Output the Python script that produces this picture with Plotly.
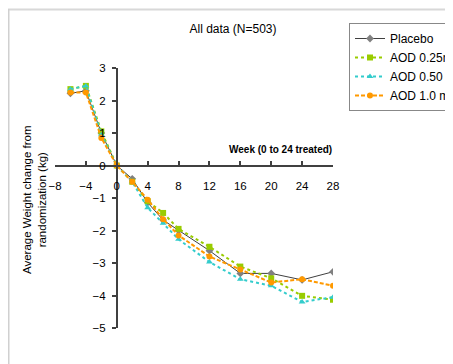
import plotly.graph_objects as go

weeks = [-6, -4, -2, 0, 2, 4, 6, 8, 12, 16, 20, 24, 28]
placebo = [2.22, 2.3, 1.0, 0.0, -0.41, -1.14, -1.68, -2.0, -2.62, -3.32, -3.32, -3.52, -3.27]
aod_025 = [2.35, 2.45, 1.05, 0.0, -0.5, -1.1, -1.46, -1.95, -2.5, -3.11, -3.47, -4.01, -4.13]
aod_050 = [2.35, 2.45, 0.95, 0.0, -0.5, -1.3, -1.78, -2.27, -2.97, -3.5, -3.7, -4.2, -4.05]
aod_100 = [2.25, 2.25, 0.85, 0.0, -0.5, -1.05, -1.65, -2.15, -2.8, -3.2, -3.6, -3.5, -3.7]

series = [
    ("Placebo", placebo, "#404040", "#808080", "solid", 1, "diamond", 6),
    ("AOD 0.25mg", aod_025, "#99CC00", "#99CC00", "dot", 2, "square", 6),
    ("AOD 0.50 mg", aod_050, "#33CCCC", "#33CCCC", "dot", 2, "triangle-up", 6),
    ("AOD 1.0 mg", aod_100, "#FF9900", "#FF9900", "4px,2px", 2, "circle", 6),
]

fig = go.Figure()
for name, vals, lc, mc, dash, w, sym, ms in series:
    fig.add_trace(go.Scatter(
        x=weeks, y=vals, name=name, mode="lines+markers",
        line=dict(color=lc, width=w, dash=dash),
        marker=dict(symbol=sym, size=ms, color=mc, line=dict(width=0)),
    ))

# page body has 8px margin; figure coordinates below are page coords minus 8
W, H = 445, 356
L, T = 47, 60
PW, PH = 278, 260
font = "Arial, Liberation Sans, sans-serif"

def px(x):
    return (x - 8 - L) / PW

def py(y):
    return 1 - (y - 8 - T) / PH

fig.update_layout(
    width=W, height=H,
    margin=dict(l=L, r=W - L - PW, t=T, b=H - T - PH, autoexpand=False),
    paper_bgcolor="white", plot_bgcolor="white",
    font=dict(family=font, color="black", size=11.5),
    title=dict(text="All data (N=503)", x=(233 - 8) / W, xanchor="center",
               y=1 - (29 - 8) / H, yanchor="middle", font=dict(size=12, family=font)),
    showlegend=True,
    legend=dict(x=px(349), y=py(23), xanchor="left", yanchor="top",
                bordercolor="#888888", borderwidth=1, bgcolor="white",
                font=dict(size=12, family=font), tracegroupgap=0),
    xaxis=dict(range=[-8, 28], dtick=4, tick0=-8, showgrid=False, zeroline=False,
               showline=True, linecolor="#404040", linewidth=1.5,
               ticks="inside", ticklen=4, tickcolor="#404040", tickwidth=1.5,
               anchor="free", position=0.625, ticklabelstandoff=10),
    yaxis=dict(range=[-5, 3], dtick=1, showgrid=False, zeroline=False,
               showline=True, linecolor="#404040", linewidth=1.5,
               ticks="outside", ticklen=4, tickcolor="#404040", tickwidth=1.5,
               anchor="free", position=8 / 36, ticklabelstandoff=4),
    annotations=[
        dict(text="<b>Week (0 to 24 treated)</b>", xref="paper", yref="paper",
             x=px(334), y=py(149), xanchor="right", yanchor="middle",
             showarrow=False, font=dict(size=10, family=font)),
        dict(text="Average Weight change from<br>randomization (kg)", xref="paper", yref="paper",
             x=px(34), y=py(200), xanchor="center", yanchor="middle",
             textangle=-90, showarrow=False, font=dict(size=11.5, family=font)),
    ],
    shapes=[
        dict(type="line", xref="paper", yref="paper", layer="above",
             x0=px(8), x1=px(470), y0=py(9.5), y1=py(9.5),
             line=dict(color="#D8D8D8", width=2)),
        dict(type="line", xref="paper", yref="paper", layer="above",
             x0=px(8.5), x1=px(8.5), y0=py(9), y1=py(380),
             line=dict(color="#D0D0D0", width=2)),
    ],
)

fig.write_html("out.html")
